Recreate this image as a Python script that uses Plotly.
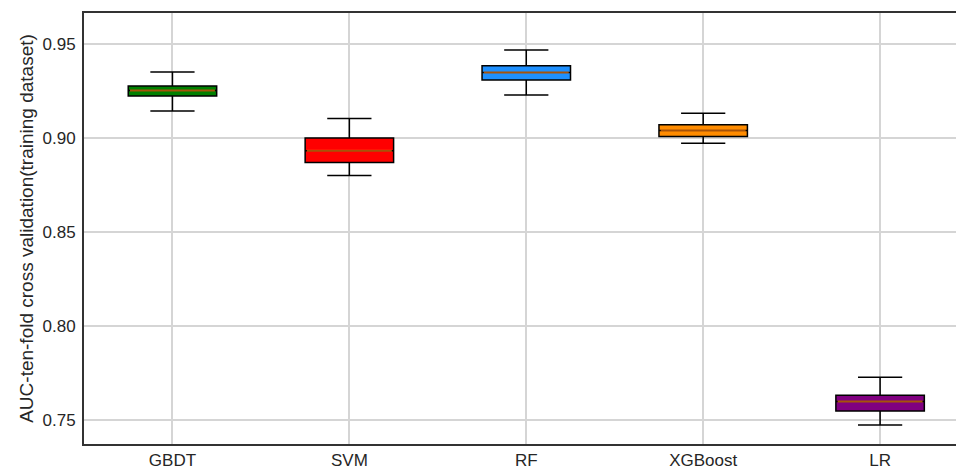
import plotly.graph_objects as go

categories = ["GBDT", "SVM", "RF", "XGBoost", "LR"]
lower_whisker = [0.9145, 0.8801, 0.9231, 0.8974, 0.7472]
q1_vals = [0.9225, 0.8871, 0.9310, 0.9010, 0.7546]
median_vals = [0.9255, 0.8934, 0.9350, 0.9041, 0.7597]
q3_vals = [0.9278, 0.9001, 0.9387, 0.9072, 0.7631]
upper_whisker = [0.9353, 0.9105, 0.9471, 0.9134, 0.7727]
box_colors = ["#008000", "#ff0000", "#1e90ff", "#ff8c00", "#800080"]
y_ticks = [0.75, 0.80, 0.85, 0.90, 0.95]

positions = list(range(1, len(categories) + 1))
box_w = 0.5

fig = go.Figure()
for i, name in enumerate(categories):
    p = positions[i]
    fig.add_trace(go.Box(
        x=[p], q1=[q1_vals[i]], median=[median_vals[i]], q3=[q3_vals[i]],
        lowerfence=[lower_whisker[i]], upperfence=[upper_whisker[i]],
        width=box_w, whiskerwidth=0.5, fillcolor=box_colors[i],
        line=dict(color="black", width=1.5), boxpoints=False,
        name=name, showlegend=False, hoverinfo="skip",
    ))
for i, name in enumerate(categories):
    p = positions[i]
    fig.add_trace(go.Scatter(
        x=[p - box_w / 2 + 0.01, p + box_w / 2 - 0.01],
        y=[median_vals[i], median_vals[i]],
        mode="lines", line=dict(color="rgba(255,127,14,0.65)", width=2),
        showlegend=False, hoverinfo="skip",
    ))

font = dict(family="Liberation Sans, Arial, sans-serif", size=17, color="#262626")
title_font = dict(family="Liberation Sans, Arial, sans-serif", size=19, color="#262626")
fig.update_layout(
    width=956, height=469,
    margin=dict(l=84, r=0, t=13, b=25),
    paper_bgcolor="white", plot_bgcolor="white",
    font=font, boxmode="overlay",
    xaxis=dict(
        range=[0.5, 5.429], tickvals=positions, ticktext=categories,
        showgrid=True, gridcolor="#d5d5d5", gridwidth=1.5,
        showline=True, linecolor="#333333", linewidth=2, mirror=True,
        ticks="", zeroline=False, tickfont=font, ticklabelstandoff=0,
    ),
    yaxis=dict(
        range=[0.73707, 0.96676], tickvals=y_ticks,
        ticktext=[f"{v:.2f}" for v in y_ticks],
        showgrid=True, gridcolor="#d5d5d5", gridwidth=1.5,
        showline=True, linecolor="#333333", linewidth=2, mirror=False,
        ticks="", zeroline=False, tickfont=font, ticklabelstandoff=3,
        title=dict(text="AUC-ten-fold cross validation(training dataset)",
                   font=title_font, standoff=4),
    ),
)

fig.write_html("out.html", config={"displayModeBar": False},
               post_script="document.body.style.margin='0';")
